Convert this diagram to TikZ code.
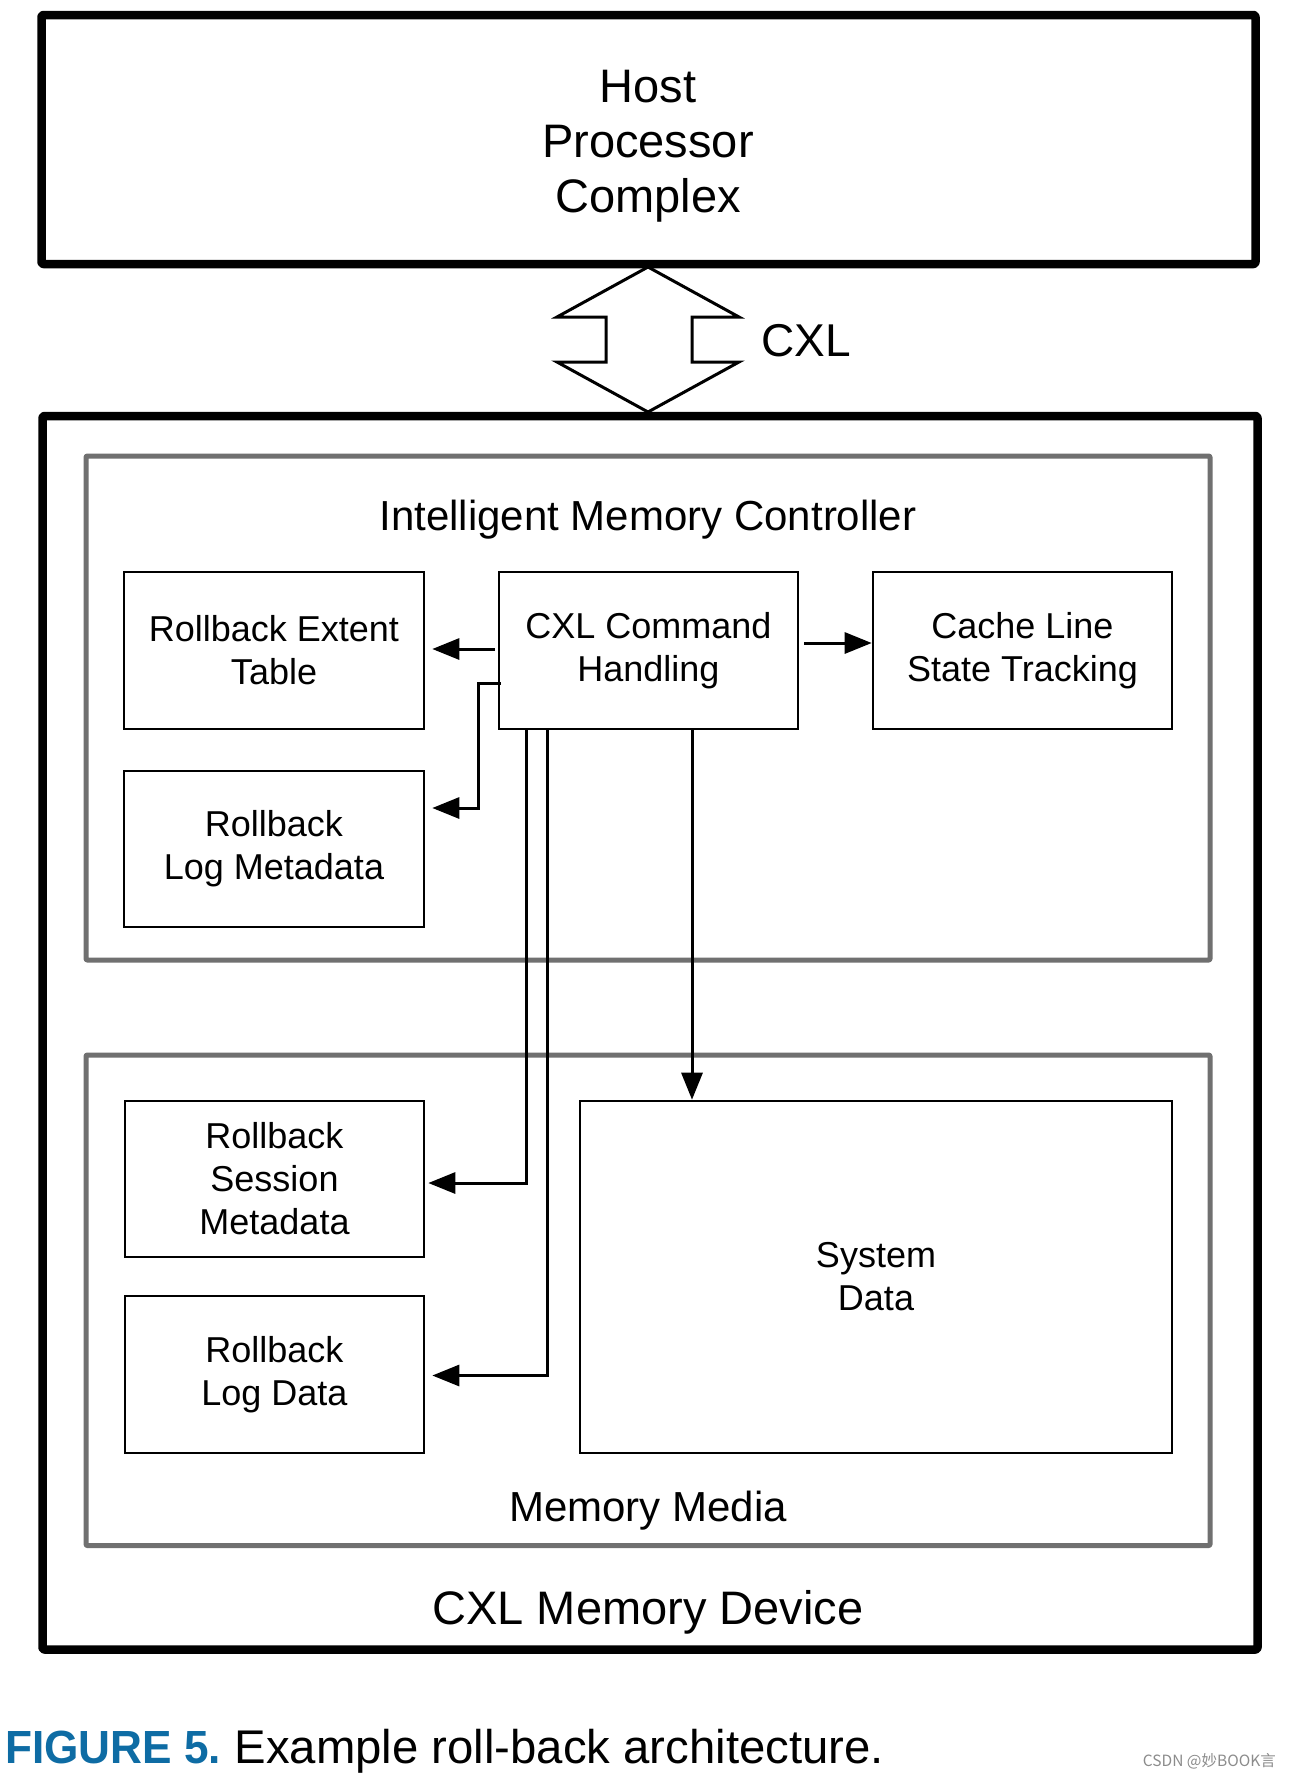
\documentclass[tikz,border=0pt]{standalone}
\usepackage{fontspec}
\setmainfont{Liberation Sans}
\newfontfamily\capfont{Liberation Sans}
\newfontfamily\capbold[FakeStretch=0.95]{Liberation Sans Bold}
\newfontfamily\cjkfont{Noto Sans CJK SC}
\usetikzlibrary{arrows.meta,calc}
\definecolor{capblue}{RGB}{14,108,164}
\definecolor{boxgray}{RGB}{112,112,112}
\tikzset{
  thickframe/.style={draw=black,line width=8.5pt,line join=round,rounded corners=2pt},
  grayframe/.style={draw=boxgray,line width=5pt,line join=round,rounded corners=1pt},
  blk/.style={draw=black,line width=2.6pt,align=center,inner sep=0pt,
    font=\fontsize{36}{43}\selectfont,text=black},
  conn/.style={draw=black,line width=3pt,-{Triangle[length=27pt,width=21pt]}},
  lbl/.style={inner sep=0pt,align=center,text=black}
}
\begin{document}
\begin{tikzpicture}[x=1pt,y=-1pt]
\useasboundingbox (0,0) rectangle (1290,1778);
\fill[white] (0,0) rectangle (1290,1778);

% Host
\draw[thickframe] (41.5,15) rectangle (1255.5,264);
\node[lbl,font=\fontsize{47}{55}\selectfont] (host) at (648,146) {Host\\Processor\\Complex};

% CXL double arrow
\draw[line width=3pt,line join=miter] (648,267) -- (739,317) -- (692,317) -- (692,362) -- (739,362)
  -- (648,412) -- (557,362) -- (606,362) -- (606,317) -- (557,317) -- cycle;
\node[lbl,anchor=west,font=\fontsize{46}{52}\selectfont] (cxl) at (761,341) {CXL};

% Device
\draw[thickframe] (42.5,416) rectangle (1257.5,1649.5);
\node[lbl,font=\fontsize{47}{52}\selectfont] (dev) at (648,1612.5) {CXL Memory Device};

% IMC
\draw[grayframe] (86,456) rectangle (1210,960);
\node[lbl,font=\fontsize{42}{48}\selectfont] (imc) at (648,519.5) {Intelligent Memory Controller};

% Memory media
\draw[grayframe] (86,1055) rectangle (1210,1545.5);
\node[lbl,font=\fontsize{42}{48}\selectfont] (mm) at (648,1510.5) {Memory Media};

% boxes
\node[blk,minimum width=300pt,minimum height=157pt] (ret) at (274,650.5) {Rollback Extent\\Table};
\node[blk,minimum width=299pt,minimum height=157pt] (cmd) at (648.5,650.5) {CXL Command\\Handling};
\node[blk,minimum width=299pt,minimum height=157pt] (cls) at (1022.5,650.5) {Cache Line\\State Tracking};
\node[blk,minimum width=300pt,minimum height=156pt] (rlm) at (274,849) {Rollback\\Log Metadata};
\node[blk,minimum width=299pt,minimum height=156pt] (rsm) at (274.5,1179) {Rollback\\Session\\Metadata};
\node[blk,minimum width=299pt,minimum height=157pt] (rld) at (274.5,1374.5) {Rollback\\Log Data};
\node[blk,minimum width=592pt,minimum height=352pt] (sd) at (876,1277) {System\\Data};

% connectors
\draw[conn,shorten <=3pt,shorten >=7pt] ([yshift=1.5pt]cmd.west) -- ([yshift=1.5pt]ret.east);
\coordinate (c2) at ($(cmd.west)+(3,33)$);
\draw[conn,shorten >=7pt] (c2) -- ++(-22,0) |- ([yshift=41pt]rlm.east);
\draw[conn,shorten <=5pt] ([yshift=7.5pt]cmd.east) -- ([yshift=7.5pt]cls.west);
\coordinate (d1) at ([xshift=-122.5pt]cmd.south);
\coordinate (d2) at ([xshift=-101.5pt]cmd.south);
\coordinate (d3) at ([xshift=43.5pt]cmd.south);
\draw[conn,shorten >=3pt] (d1) |- ([yshift=-4pt]rsm.east);
\draw[conn,shorten >=7pt] (d2) |- ([yshift=-1pt]rld.east);
\draw[conn] (d3) -- (d3 |- sd.north);

% caption
\node[inner sep=0pt,anchor=base west,text=capblue,font=\capbold\fontsize{46.5}{52}\selectfont] (figno) at (5,1763) {FIGURE 5.};
\node[inner sep=0pt,anchor=base west,text=black,font=\capfont\fontsize{47.3}{52}\selectfont] (cap) at ([xshift=13pt]figno.base east) {Example roll-back architecture.};
\node[inner sep=0pt,anchor=base east,text=black!45,font=\cjkfont\fontsize{15.5}{18}\selectfont] (wm) at (1276,1766) {CSDN @妙BOOK言};
\end{tikzpicture}
\end{document}
